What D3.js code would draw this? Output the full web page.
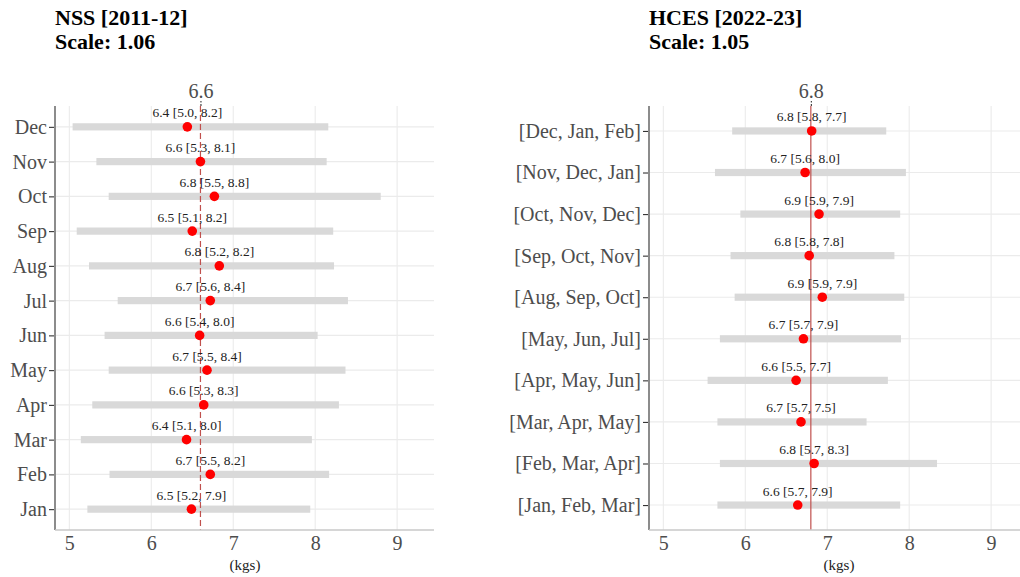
<!DOCTYPE html>
<html>
<head>
<meta charset="utf-8">
<script src="https://cdn.jsdelivr.net/npm/d3@7"></script>
<style>
  html, body { margin: 0; padding: 0; background: #fff; }
  svg { display: block; }
</style>
</head>
<body>
<svg id="chart" width="1020" height="577"></svg>
<script>
// ---------- DATA ----------
const nssCategories = ["Dec","Nov","Oct","Sep","Aug","Jul","Jun","May","Apr","Mar","Feb","Jan"];
const nssMean  = [6.44, 6.60, 6.77, 6.50, 6.83, 6.72, 6.59, 6.68, 6.64, 6.43, 6.72, 6.49];
const nssLow   = [5.04, 5.33, 5.48, 5.09, 5.24, 5.59, 5.43, 5.48, 5.28, 5.14, 5.49, 5.22];
const nssHigh  = [8.16, 8.14, 8.80, 8.22, 8.23, 8.40, 8.03, 8.37, 8.29, 7.96, 8.17, 7.94];
const nssOverall = 6.6;
const nssTitle = ["NSS [2011-12]", "Scale: 1.06"];

const hcesCategories = ["[Dec, Jan, Feb]","[Nov, Dec, Jan]","[Oct, Nov, Dec]","[Sep, Oct, Nov]","[Aug, Sep, Oct]",
                        "[May, Jun, Jul]","[Apr, May, Jun]","[Mar, Apr, May]","[Feb, Mar, Apr]","[Jan, Feb, Mar]"];
const hcesMean = [6.81, 6.73, 6.90, 6.78, 6.94, 6.71, 6.62, 6.68, 6.84, 6.64];
const hcesLow  = [5.84, 5.63, 5.94, 5.82, 5.87, 5.69, 5.54, 5.66, 5.69, 5.66];
const hcesHigh = [7.72, 7.96, 7.89, 7.82, 7.94, 7.90, 7.74, 7.48, 8.34, 7.89];
const hcesOverall = 6.8;
const hcesTitle = ["HCES [2022-23]", "Scale: 1.05"];

const xTicks = [5, 6, 7, 8, 9];
const xDomain = [4.825, 9.45];
const xLabel = "(kgs)";

// ---------- DRAW ----------
const svg = d3.select("#chart");
const serif = "'Liberation Serif', 'DejaVu Serif', serif";
const plotTop = 106, plotBottom = 530;

function panel(cfg) {
  const { left, cats, mean, low, high, overall, title, dashed } = cfg;
  const width = 379;
  const x = d3.scaleLinear().domain(xDomain).range([left, left + width]);
  const y = d3.scalePoint().domain(cats).range([plotTop, plotBottom]).padding(0.6);
  const g = svg.append("g");

  // grid
  g.selectAll(".vg").data(xTicks).enter().append("line")
    .attr("x1", d => x(d)).attr("x2", d => x(d))
    .attr("y1", plotTop).attr("y2", plotBottom)
    .attr("stroke", "#ebebeb").attr("stroke-width", 1.1);
  g.selectAll(".hg").data(cats).enter().append("line")
    .attr("x1", left).attr("x2", left + width)
    .attr("y1", d => y(d)).attr("y2", d => y(d))
    .attr("stroke", "#ebebeb").attr("stroke-width", 1.1);

  // bars
  g.selectAll(".bar").data(cats).enter().append("rect")
    .attr("x", (d, i) => x(low[i]))
    .attr("width", (d, i) => x(high[i]) - x(low[i]))
    .attr("y", d => y(d) - 3.6).attr("height", 7.2)
    .attr("fill", "#d9d9d9");

  // overall reference line
  g.append("line")
    .attr("x1", x(overall)).attr("x2", x(overall))
    .attr("y1", plotTop).attr("y2", plotBottom)
    .attr("stroke", "#c0504d").attr("stroke-width", 1.2)
    .attr("stroke-dasharray", dashed ? "6,3" : null);

  // points
  g.selectAll(".pt").data(cats).enter().append("circle")
    .attr("cx", (d, i) => x(mean[i])).attr("cy", d => y(d))
    .attr("r", 4.8).attr("fill", "#ff0000");

  // point labels
  g.selectAll(".lab").data(cats).enter().append("text")
    .attr("x", (d, i) => x(mean[i])).attr("y", d => y(d) - 9.5)
    .attr("text-anchor", "middle")
    .attr("font-family", serif).attr("font-size", 13.5).attr("fill", "#222")
    .text((d, i) => `${mean[i].toFixed(1)} [${low[i].toFixed(1)}, ${high[i].toFixed(1)}]`);

  // y axis
  const yAxis = d3.axisLeft(y).tickSize(6).tickPadding(2);
  const ya = g.append("g").attr("transform", `translate(${left},0)`).call(yAxis);
  ya.select(".domain").remove();
  ya.selectAll(".tick line").attr("stroke", "#333").attr("stroke-width", 1.1);
  ya.selectAll(".tick text").attr("font-family", serif).attr("font-size", 20)
    .attr("fill", "#4d4d4d");
  g.append("line").attr("x1", left).attr("x2", left).attr("y1", plotTop).attr("y2", plotBottom)
    .attr("stroke", "#8c8c8c").attr("stroke-width", 2);

  // x axis (bottom)
  const xAxis = d3.axisBottom(x).tickValues(xTicks).tickSize(0).tickPadding(6).tickFormat(d3.format("d"));
  const xa = g.append("g").attr("transform", `translate(0,${plotBottom})`).call(xAxis);
  xa.select(".domain").remove();
  xa.selectAll(".tick text").attr("font-family", serif).attr("font-size", 20)
    .attr("fill", "#4d4d4d");
  g.append("line").attr("x1", left).attr("x2", left + width).attr("y1", plotBottom).attr("y2", plotBottom)
    .attr("stroke", "#c8c8c8").attr("stroke-width", 1.5);

  // top axis with overall value
  const tAxis = d3.axisTop(x).tickValues([overall]).tickSize(5).tickPadding(3).tickFormat(d3.format(".1f"));
  const ta = g.append("g").attr("transform", `translate(0,${plotTop})`).call(tAxis);
  ta.select(".domain").remove();
  ta.selectAll(".tick line").attr("stroke", "#333").attr("stroke-width", 1.1).attr("stroke-dasharray", "2,1.5");
  ta.selectAll(".tick text").attr("font-family", serif).attr("font-size", 20)
    .attr("fill", "#4d4d4d");

  // x label
  g.append("text").attr("x", left + width / 2 + 0.5).attr("y", 570)
    .attr("text-anchor", "middle").attr("font-family", serif).attr("font-size", 15)
    .attr("fill", "#222").text(xLabel);

  // title
  g.selectAll(".title").data(title).enter().append("text")
    .attr("x", left).attr("y", (d, i) => 25 + i * 23.5)
    .attr("font-family", serif).attr("font-weight", "bold").attr("font-size", 22)
    .attr("fill", "#000").text(d => d);
}

panel({ left: 55, cats: nssCategories, mean: nssMean, low: nssLow, high: nssHigh,
        overall: nssOverall, title: nssTitle, dashed: true });
panel({ left: 649, cats: hcesCategories, mean: hcesMean, low: hcesLow, high: hcesHigh,
        overall: hcesOverall, title: hcesTitle, dashed: false });
</script>
</body>
</html>
